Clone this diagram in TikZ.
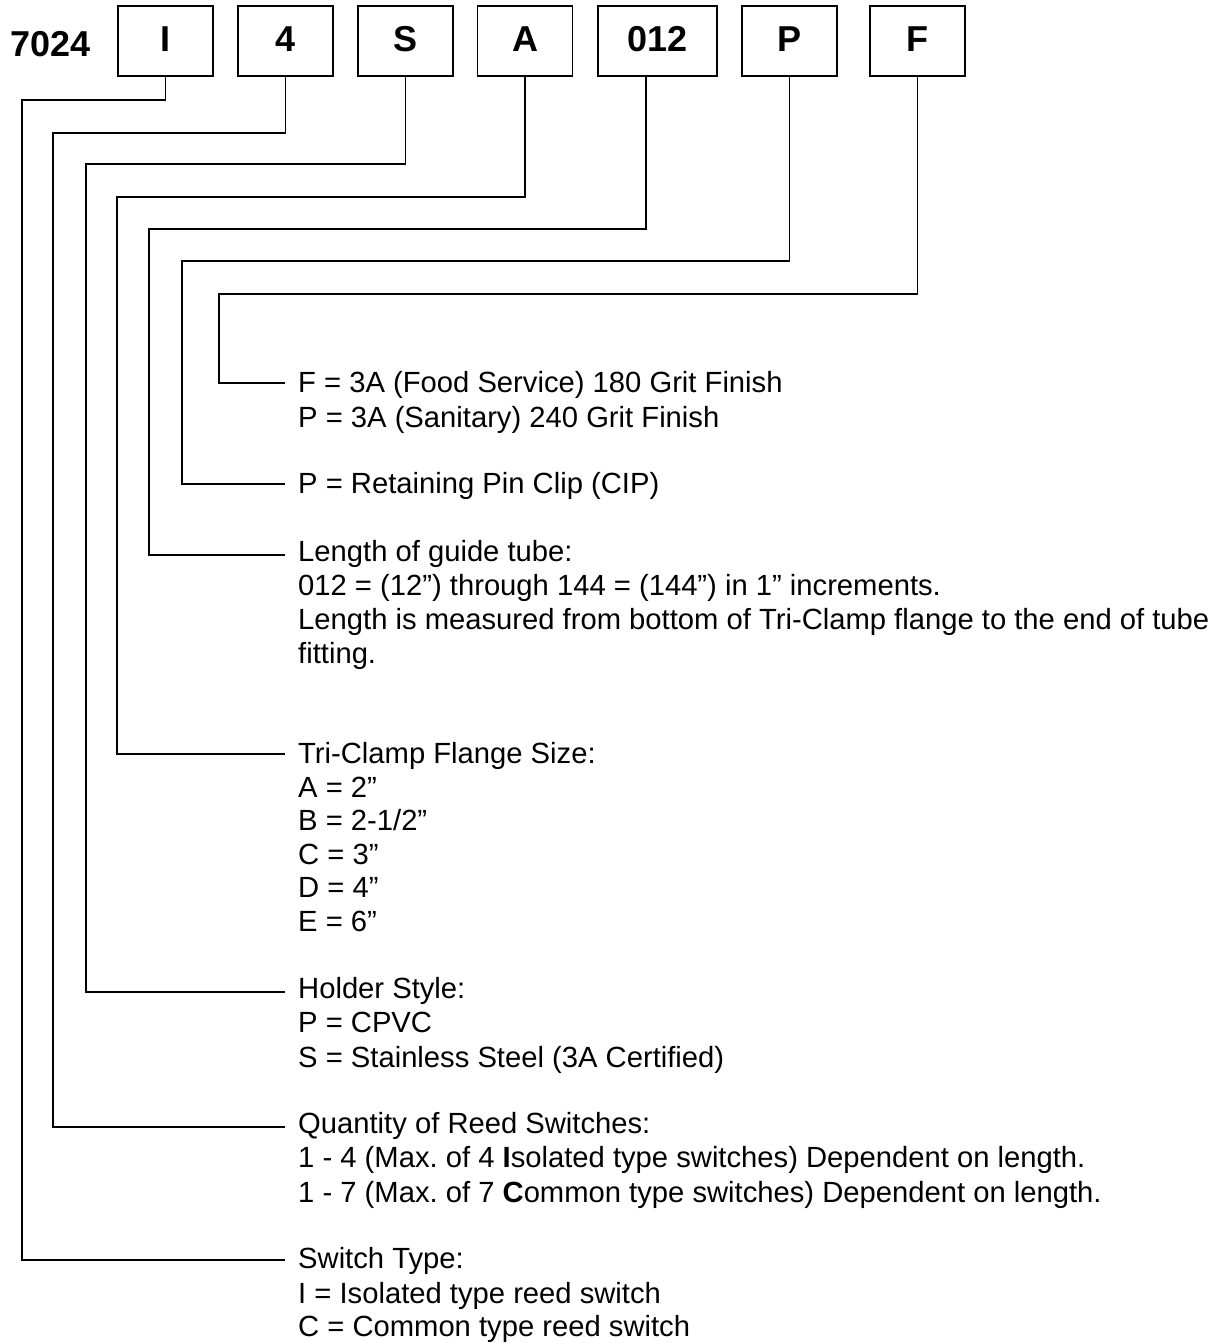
\documentclass[tikz,border=0pt]{standalone}
\usepackage{fontspec}
\setmainfont{Liberation Sans}
\frenchspacing
\begin{document}
\begin{tikzpicture}[x=1pt,y=-1pt,
  box/.style={draw,line width=1.8pt,minimum width=95pt,minimum height=70pt,inner sep=0pt,
    font=\fontsize{36}{40}\selectfont\bfseries,text height=26pt,text depth=4pt},
  wire/.style={line width=1.8pt},
  desc/.style={anchor=base west,inner sep=0pt,font=\fontsize{29.2}{34}\selectfont}]
\useasboundingbox (0,0) rectangle (1224,1343);

% code boxes
\node[anchor=base west,inner sep=0pt,font=\fontsize{36}{40}\selectfont\bfseries] (code) at (10,57) {7024};
\node[box] (bI) at (165.5,41) {I};
\node[box] (b4) at (285.5,41) {4};
\node[box] (bS) at (405.5,41) {S};
\node[box] (bA) at (525,41) {A};
\node[box,minimum width=119pt] (b012) at (657.5,41) {012};
\node[box] (bP) at (789.5,41) {P};
\node[box] (bF) at (917.5,41) {F};

% end points of connectors
\coordinate (eF) at (285,383);
\coordinate (eP) at (285,484);
\coordinate (e012) at (285,555);
\coordinate (eA) at (285,754);
\coordinate (eS) at (285,992);
\coordinate (e4) at (285,1127);
\coordinate (eI) at (285,1260);

% connectors
\draw[wire] (bF.south) |- (219,294) |- (eF);
\draw[wire] (bP.south) |- (182,261) |- (eP);
\draw[wire] ([xshift=-11.5pt]b012.south) |- (149,229) |- (e012);
\draw[wire] (bA.south) |- (117,197) |- (eA);
\draw[wire] (bS.south) |- (86,164) |- (eS);
\draw[wire] (b4.south) |- (53,133) |- (e4);
\draw[wire] (bI.south) |- (22,100) |- (eI);

% descriptions
\node[desc] (tF1) at (298,392) {F = 3A (Food Service) 180 Grit Finish};
\node[desc] (tF2) at (298,427) {P = 3A (Sanitary) 240 Grit Finish};

\node[desc] (tP1) at (298,493) {P = Retaining Pin Clip (CIP)};

\node[desc] (tL1) at (298,561) {Length of guide tube:};
\node[desc] (tL2) at (298,595) {012 = (12”) through 144 = (144”) in 1” increments.};
\node[desc] (tL3) at (298,629) {Length is measured from bottom of Tri-Clamp flange to the end of tube};
\node[desc] (tL4) at (298,663) {fitting.};

\node[desc] (tA1) at (298,763) {Tri-Clamp Flange Size:};
\node[desc] (tA2) at (298,797) {A = 2”};
\node[desc] (tA3) at (298,830) {B = 2-1/2”};
\node[desc] (tA4) at (298,864) {C = 3”};
\node[desc] (tA5) at (298,897) {D = 4”};
\node[desc] (tA6) at (298,931) {E = 6”};

\node[desc] (tS1) at (298,998) {Holder Style:};
\node[desc] (tS2) at (298,1032) {P = CPVC};
\node[desc] (tS3) at (298,1067) {S = Stainless Steel (3A Certified)};

\node[desc] (tQ1) at (298,1133) {Quantity of Reed Switches:};
\node[desc] (tQ2) at (298,1167) {1 - 4 (Max. of 4 \textbf{I}solated type switches) Dependent on length.};
\node[desc] (tQ3) at (298,1202) {1 - 7 (Max. of 7 \textbf{C}ommon type switches) Dependent on length.};

\node[desc] (tT1) at (298,1268) {Switch Type:};
\node[desc] (tT2) at (298,1303) {I = Isolated type reed switch};
\node[desc] (tT3) at (298,1336) {C = Common type reed switch};
\end{tikzpicture}
\end{document}
